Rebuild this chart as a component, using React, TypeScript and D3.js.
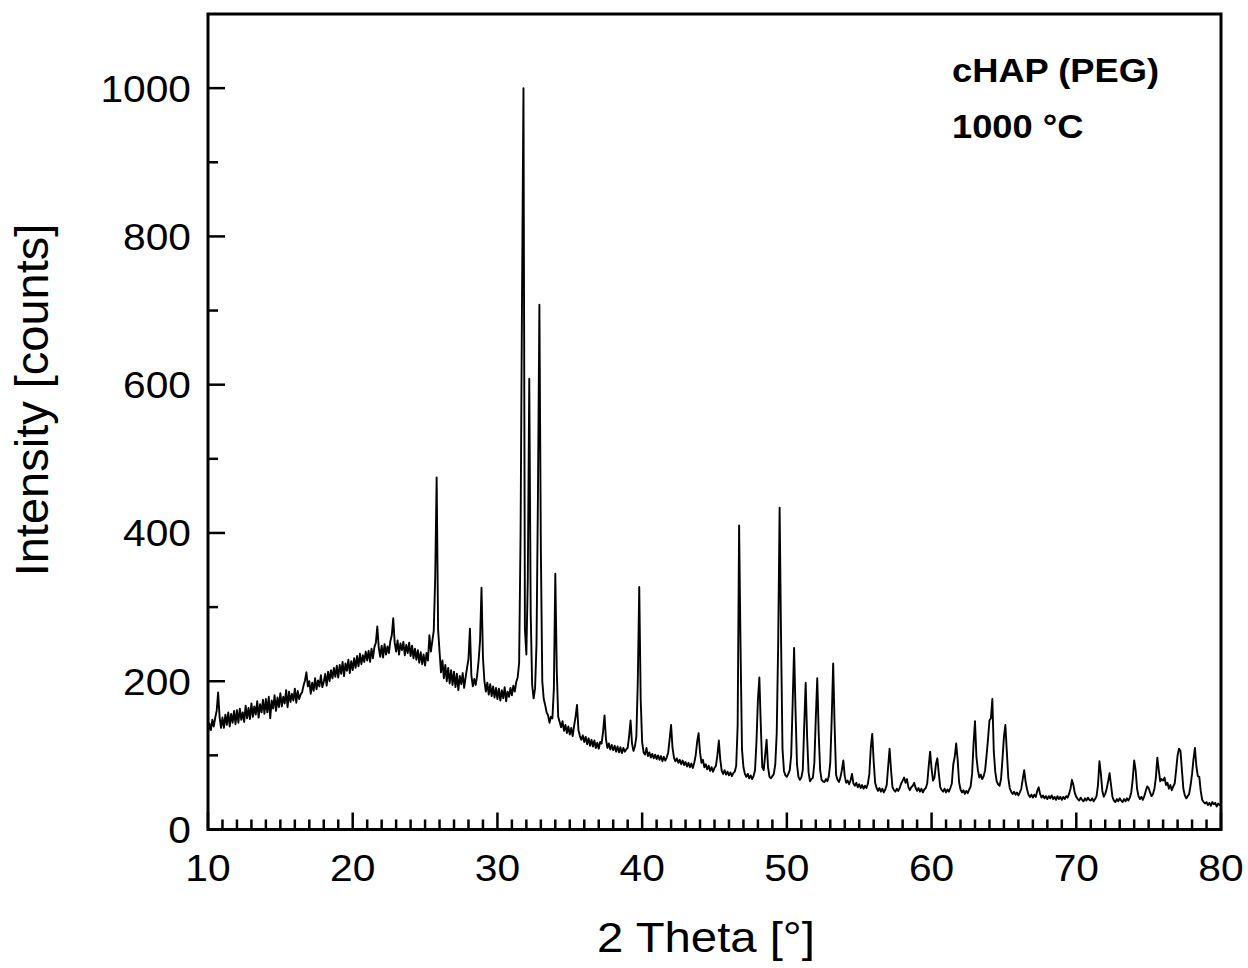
import * as d3 from 'd3';

// XRD scan, 2θ from 10° to 80° in 0.1° steps, counts
const scanStart = 10;
const scanStep = 0.1;

const counts10s = [
  130, 143, 134, 148, 139, 151, 160, 185, 152, 137,
  151, 137, 155, 141, 158, 139, 156, 144, 160, 142,
  161, 144, 163, 148, 158, 145, 167, 150, 164, 149,
  170, 152, 166, 155, 173, 151, 169, 158, 175, 156,
  176, 158, 179, 150, 174, 163, 181, 160, 178, 165,
  184, 166, 179, 170, 188, 165, 186, 172, 183, 174,
  190, 171, 187, 176, 182, 185, 194, 201, 212, 193,
  200, 183, 198, 187, 204, 189, 201, 193, 208, 192,
  199, 210, 194, 213, 200, 215, 204, 218, 206, 221,
  205, 222, 210, 226, 207, 224, 214, 229, 211, 227,
];
const counts20s = [
  215, 231, 218, 234, 220, 237, 223, 235, 226, 240,
  228, 241, 226, 244, 231, 246, 252, 274, 245, 233,
  248, 232, 250, 236, 247, 238, 254, 262, 285, 252,
  240, 255, 236, 251, 242, 253, 235, 249, 238, 252,
  234, 248, 231, 244, 229, 242, 225, 239, 223, 236,
  221, 238, 228, 262, 240, 254, 268, 340, 475, 270,
  240, 212, 228, 204, 222, 200, 218, 197, 215, 195,
  213, 192, 210, 188, 207, 196, 211, 191, 205, 218,
  230, 271, 208, 193, 203, 195, 208, 228, 255, 326,
  232, 200, 186, 198, 182, 196, 180, 193, 178, 191,
];
const counts30s = [
  176, 190, 174, 188, 177, 192, 173, 186, 179, 191,
  181, 194, 186, 199, 205, 225, 400, 720, 1000, 270,
  236, 340, 608, 290, 195, 177, 190, 250, 450, 708,
  380, 200, 176, 168, 158, 154, 144, 152, 150, 190,
  345, 215, 152, 145, 138, 146, 133, 141, 130, 139,
  128, 137, 126, 140, 152, 168, 134, 126, 121, 127,
  118, 125, 115, 123, 113, 121, 112, 120, 110, 117,
  109, 118, 116, 132, 154, 122, 110, 116, 108, 114,
  107, 113, 105, 112, 104, 111, 103, 110, 105, 108,
  110, 126, 147, 116, 106, 112, 125, 200, 327, 175,
];
const counts40s = [
  118, 104, 101, 110, 99, 104, 97, 102, 96, 101,
  95, 100, 94, 99, 92, 98, 93, 97, 104, 122,
  141, 110, 97, 92, 96, 90, 94, 88, 93, 87,
  91, 85, 90, 84, 89, 83, 90, 100, 118, 130,
  104, 90, 94, 84, 88, 81, 86, 79, 84, 78,
  83, 86, 100, 120, 94, 79, 75, 80, 74, 78,
  73, 77, 72, 76, 78, 86, 140, 410, 245, 108,
  84, 75, 71, 75, 69, 73, 68, 72, 80, 118,
  175, 205, 140, 84, 80, 100, 121, 84, 71, 69,
  72, 75, 88, 130, 250, 434, 255, 108, 79, 73,
];
const counts50s = [
  71, 75, 80, 100, 170, 245, 160, 88, 71, 67,
  70, 80, 140, 198, 125, 77, 65, 68, 70, 90,
  150, 204, 130, 80, 67, 65, 64, 68, 65, 72,
  90, 150, 224, 140, 74, 67, 64, 70, 80, 93,
  72, 63, 66, 61, 66, 75, 62, 59, 63, 57,
  61, 56, 60, 55, 59, 56, 62, 75, 110, 129,
  92, 63, 56, 52, 56, 51, 55, 50, 54, 60,
  85, 109, 80, 57, 53, 51, 55, 52, 56, 62,
  66, 70, 63, 68, 57, 53, 57, 59, 63, 56,
  52, 56, 51, 55, 50, 54, 56, 62, 85, 105,
];
const counts60s = [
  82, 66, 70, 88, 96, 75, 57, 53, 51, 55,
  50, 54, 51, 56, 62, 88, 98, 116, 95, 64,
  54, 50, 53, 48, 52, 49, 54, 58, 75, 115,
  146, 98, 80, 70, 74, 68, 72, 80, 100, 122,
  147, 150, 176, 105, 78, 65, 61, 59, 68, 95,
  125, 141, 105, 70, 56, 51, 48, 51, 47, 50,
  46, 50, 55, 68, 80, 64, 54, 47, 44, 47,
  43, 47, 44, 52, 57, 48, 43, 46, 42, 45,
  41, 45, 42, 46, 41, 44, 40, 45, 41, 44,
  40, 44, 41, 45, 43, 48, 55, 67, 60, 49,
];
const counts70s = [
  44, 41, 39, 43, 40, 38, 42, 39, 43, 40,
  39, 42, 38, 41, 45, 60, 92, 75, 52, 44,
  48, 55, 65, 76, 60, 44, 39, 37, 41, 38,
  42, 39, 37, 41, 38, 42, 39, 43, 50, 68,
  93, 80, 55, 45, 41, 44, 40, 45, 52, 58,
  56, 50, 45, 48, 55, 70, 97, 80, 65, 68,
  66, 70, 60, 63, 55, 60, 53, 58, 62, 80,
  100, 109, 106, 80, 55, 46, 42, 45, 48, 60,
  75, 95, 110, 85, 72, 71, 52, 40, 37, 35,
  37, 33, 36, 32, 37, 34, 36, 31, 35, 33,
  34,
];

const xMajorTicks = [10, 20, 30, 40, 50, 60, 70, 80];
const yMajorTicks = [0, 200, 400, 600, 800, 1000];
const yMinorTicks = [100, 300, 500, 700, 900];
const sampleLines = ['cHAP (PEG)', '1000 °C'];

const font = '"Liberation Sans", Arial, Helvetica, sans-serif';

export default function App() {
  const counts = [
    ...counts10s, ...counts20s, ...counts30s, ...counts40s,
    ...counts50s, ...counts60s, ...counts70s,
  ];
  const scan = counts.map((c, i) => [scanStart + i * scanStep, c]);

  const x = d3.scaleLinear().domain([10, 80]).range([208, 1221]);
  const y = d3.scaleLinear().domain([0, 1100]).range([829.5, 14]);

  const line = d3.line()
    .x(d => x(d[0]))
    .y(d => y(d[1]));

  const xMinorTicks = d3.range(11, 80).filter(v => v % 10 !== 0);
  const y0 = y(0);
  const x0 = x(10);

  return (
    <>
      <style>{'body{margin:0}'}</style>
      <svg width={1248} height={968} style={{ display: 'block', background: '#fff' }}>
        <path d={line(scan)} fill="none" stroke="#000" strokeWidth={1.9} strokeLinejoin="round" />

        {/* frame */}
        <rect x={x(10)} y={y(1100)} width={x(80) - x(10)} height={y(0) - y(1100)}
          fill="none" stroke="#000" strokeWidth={3} />

        {/* x ticks, inside */}
        {xMajorTicks.map(t => (
          <line key={'xM' + t} x1={x(t)} x2={x(t)} y1={y0} y2={y0 - 17} stroke="#000" strokeWidth={2.5} />
        ))}
        {xMinorTicks.map(t => (
          <line key={'xm' + t} x1={x(t)} x2={x(t)} y1={y0} y2={y0 - 10} stroke="#000" strokeWidth={2.5} />
        ))}
        {xMajorTicks.map(t => (
          <text key={'xl' + t} transform={`translate(${x(t)},${y0 + 51}) scale(1.1,1)`}
            textAnchor="middle" fontFamily={font} fontSize={37}>{t}</text>
        ))}

        {/* y ticks, inside */}
        {yMajorTicks.map(t => (
          <line key={'yM' + t} x1={x0} x2={x0 + 17} y1={y(t)} y2={y(t)} stroke="#000" strokeWidth={2.5} />
        ))}
        {yMinorTicks.map(t => (
          <line key={'ym' + t} x1={x0} x2={x0 + 10} y1={y(t)} y2={y(t)} stroke="#000" strokeWidth={2.5} />
        ))}
        {yMajorTicks.map(t => (
          <text key={'yl' + t} transform={`translate(191,${y(t) + 13.5}) scale(1.1,1)`}
            textAnchor="end" fontFamily={font} fontSize={37}>{t}</text>
        ))}

        {/* axis titles */}
        <text transform="translate(706,952) scale(1.1,1)" textAnchor="middle"
          fontFamily={font} fontSize={43}>2 Theta [°]</text>
        <text transform="translate(48,400) rotate(-90)" textAnchor="middle"
          fontFamily={font} fontSize={47}>Intensity [counts]</text>

        {/* sample label */}
        {sampleLines.map((s, i) => (
          <text key={s} transform={`translate(952,${82 + i * 56}) scale(1.1,1)`}
            fontFamily={font} fontSize={33} fontWeight="bold">{s}</text>
        ))}
      </svg>
    </>
  );
}
